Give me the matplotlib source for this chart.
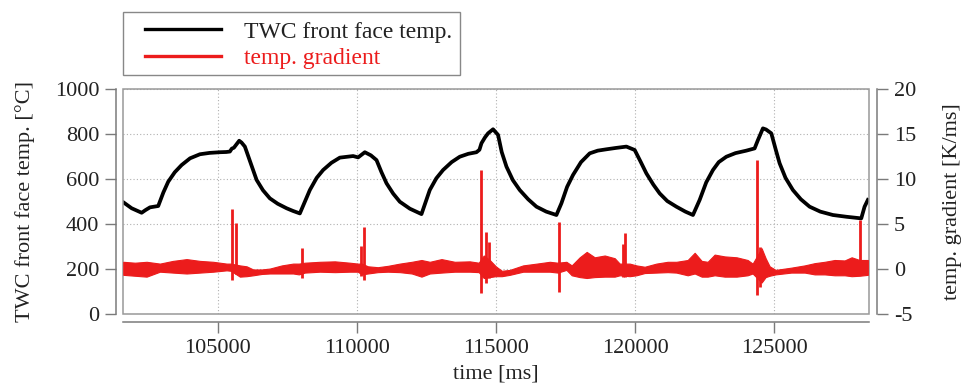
import matplotlib.pyplot as plt
from matplotlib.lines import Line2D
from matplotlib.patches import Rectangle

plt.rcParams['font.family'] = ['Liberation Serif', 'DejaVu Serif']
plt.rcParams['axes.unicode_minus'] = False

RED = '#ec1c1c'
GREY = '#7a7a7a'
INK = '#222222'

# TWC front face temperature [°C] vs time [ms]
temp_t = [101620, 101900, 102260, 102400, 102560, 102856, 103040, 103215, 103450,
          103696, 104000, 104354, 104700, 105072, 105300, 105431, 105500, 105575,
          105766, 105850, 105970, 106180, 106391, 106620, 106868, 107150, 107468,
          107700, 107946, 108305, 108550, 108783, 109080, 109383, 109860, 110040,
          110281, 110500, 110701, 110880, 111060, 111300, 111538, 111900, 112317,
          112615, 112850, 113093, 113400, 113693, 114000, 114293, 114400, 114473,
          114600, 114710, 114889, 115069, 115200, 115371, 115600, 115848, 116150,
          116448, 116800, 117166, 117346, 117550, 117763, 118050, 118363, 118650,
          118963, 119300, 119681, 119979, 120200, 120399, 120650, 120877, 121150,
          121477, 121800, 122073, 122314, 122550, 122792, 123000, 123273, 123600,
          123991, 124289, 124408, 124588, 124700, 124889, 125050, 125187, 125400,
          125665, 125950, 126265, 126650, 127102, 127600, 128122, 128241, 128359]
temp_c = [495, 470, 450, 462, 474, 480, 540, 588, 630,
          662, 692, 710, 716, 719, 720, 722, 735, 739,
          770, 762, 744, 670, 596, 550, 514, 490, 470,
          458, 447, 551, 605, 640, 672, 695, 702, 696,
          719, 705, 684, 630, 581, 535, 499, 468, 444,
          551, 603, 640, 675, 699, 712, 719, 730, 759,
          785, 803, 821, 796, 720, 655, 595, 551, 510,
          477, 455, 440, 492, 565, 618, 675, 714, 726,
          732, 738, 744, 729, 675, 625, 575, 536, 502,
          477, 455, 440, 507, 585, 640, 675, 699, 715,
          726, 736, 773, 825, 820, 803, 730, 670, 605,
          551, 510, 477, 455, 440, 432, 425, 477, 507]

# temperature gradient [K/ms]: envelope of the noisy signal
grad_t = [101600, 102019, 102439, 102917, 103384, 103876, 104354, 104832, 105313,
          105467, 105791, 106031, 106269, 106581, 106868, 107299, 107705, 107910,
          108126, 108664, 109203, 109742, 110029, 110173, 110389, 110748, 111107,
          111538, 111969, 112317, 112615, 113036, 113513, 114052, 114375, 114555,
          114771, 114987, 115203, 115490, 115968, 116460, 116927, 117215, 117525,
          117716, 118003, 118255, 118542, 118902, 119261, 119441, 119800, 120041,
          120339, 120759, 121165, 121477, 121884, 122135, 122386, 122602, 122853,
          123212, 123643, 124038, 124218, 124541, 124685, 124829, 125044, 125607,
          126088, 126447, 126806, 127165, 127524, 127776, 128063, 128359]
grad_hi = [0.8, 0.7, 0.8, 0.6, 0.9, 1.1, 0.9, 0.8, 0.6,
           0.6, 0.4, 0.3, -0.05, -0.05, 0.05, 0.4, 0.6, 0.6,
           0.7, 0.8, 0.85, 0.7, 0.6, 0.6, 0.3, 0.2, 0.35,
           0.6, 0.8, 1.0, 0.8, 1.1, 0.8, 0.85, 0.7, 1.5,
           1.0, 0.3, -0.2, -0.1, 0.4, 0.6, 0.8, 0.7, 0.8,
           0.4, 1.3, 1.9, 1.3, 1.5, 1.2, 0.6, 0.6, 0.4,
           0.25, 0.6, 0.8, 0.8, 1.0, 1.8, 0.9, 0.8, 1.6,
           1.4, 1.3, 1.0, 0.6, 2.3, 1.2, 0.3, -0.1, 0.15,
           0.4, 0.65, 0.8, 1.0, 0.95, 1.3, 1.0, 1.0]
grad_lo = [-0.65, -0.75, -0.85, -0.3, -0.4, -0.5, -0.4, -0.3, -0.15,
           -0.2, -0.85, -0.8, -0.7, -0.55, -0.5, -0.5, -0.5, -0.6,
           -0.4, -0.3, -0.35, -0.3, -0.3, -0.6, -0.5, -0.35, -0.3,
           -0.35, -0.5, -0.85, -0.5, -0.4, -0.3, -0.3, -0.35, -1.0,
           -0.9, -0.8, -0.8, -0.65, -0.3, -0.3, -0.3, -0.4, -0.1,
           -0.7, -0.9, -1.0, -0.9, -0.85, -0.85, -0.7, -0.8, -0.7,
           -0.45, -0.4, -0.35, -0.4, -0.7, -0.5, -0.85, -0.85, -0.7,
           -0.85, -0.85, -0.7, -0.5, -1.5, -0.9, -0.75, -0.6, -0.4,
           -0.4, -0.6, -0.6, -0.7, -0.7, -0.8, -0.75, -0.65]

# isolated gradient spikes
spike_t = [105514, 105647, 108007, 110137, 110245, 114473, 114652, 114735,
           117260, 119548, 119620, 124372, 124487, 128087]
spike_hi = [6.67, 5.07, 2.3, 2.59, 4.7, 11.0, 4.15, 3.0,
            5.26, 2.8, 3.96, 12.1, 2.5, 5.44]
spike_lo = [-1.22, -0.5, -1.04, -0.8, -1.22, -2.7, -1.5, -1.0,
            -2.52, -0.85, -0.85, -2.9, -2.0, -0.5]

x_ticks = [105000, 110000, 115000, 120000, 125000]
temp_ticks = [0, 200, 400, 600, 800, 1000]
grad_ticks = [-5, 0, 5, 10, 15, 20]

fig = plt.figure(figsize=(9.7, 3.83), dpi=100)
ax = fig.add_axes([123 / 970, 1 - 314 / 383, (869 - 123) / 970, (314 - 89) / 383])
ax2 = ax.twinx()

ax.plot(temp_t, temp_c, color='black', lw=2.7, zorder=3)
ax2.fill_between(grad_t, grad_lo, grad_hi, color=RED, lw=0.8)
ax2.vlines(spike_t, spike_lo, spike_hi, color=RED, lw=2.0)

ax.set_xlim(101590, 128400)
ax.set_ylim(0, 1000)
ax2.set_ylim(-5, 20)
ax.set_xticks(x_ticks)
ax.set_yticks(temp_ticks)
ax2.set_yticks(grad_ticks)

ax.grid(True, linestyle=(0, (1, 2)), color='#b0b0b0', lw=0.8)

# detached axes, Igor style
for a in (ax, ax2):
    for s in a.spines.values():
        s.set_visible(False)
        s.set_color(GREY)
        s.set_linewidth(1.1)
ax.spines['left'].set_visible(True)
ax.spines['left'].set_position(('outward', 5))
ax.spines['bottom'].set_visible(True)
ax.spines['bottom'].set_position(('outward', 6))
ax2.spines['right'].set_visible(True)
ax2.spines['right'].set_position(('outward', 6))

ax.add_patch(Rectangle((0, 0), 1, 1, transform=ax.transAxes, fill=False,
                       edgecolor='#999999', lw=1.1, clip_on=False, zorder=5))

for a in (ax, ax2):
    a.tick_params(direction='out', length=8, width=1, color=GREY,
                  labelsize=16, labelcolor=INK, pad=4)

ax.set_xlabel('time [ms]', fontsize=16, color=INK)
ax.xaxis.set_label_coords(0.5, -0.225)
ax.set_ylabel('TWC front face temp. [°C]', fontsize=16, color=INK)
ax.yaxis.set_label_coords(-0.118, 0.5)
ax2.set_ylabel('temp. gradient [K/ms]', fontsize=16, color=INK)
ax2.yaxis.set_label_coords(1.099, 0.5)

# legend box drawn separately so the keys sit inset from its left edge
fig.add_artist(Rectangle((123 / 970, 1 - 75 / 383), (460 - 123) / 970, 63 / 383,
                         transform=fig.transFigure, fill=False,
                         edgecolor='#888888', lw=1.0))
handles = [Line2D([], [], color='black', lw=2.4), Line2D([], [], color=RED, lw=2.4)]
leg = fig.legend(handles, ['TWC front face temp.', 'temp. gradient'],
                 loc='upper left', bbox_to_anchor=(145 / 970, 1 - 21 / 383),
                 frameon=False, fontsize=17, handlelength=3.2, handletextpad=1.0,
                 borderpad=0, labelspacing=0.2, borderaxespad=0)
for txt, c in zip(leg.get_texts(), [INK, RED]):
    txt.set_color(c)

fig.savefig('out.png', dpi=100)
